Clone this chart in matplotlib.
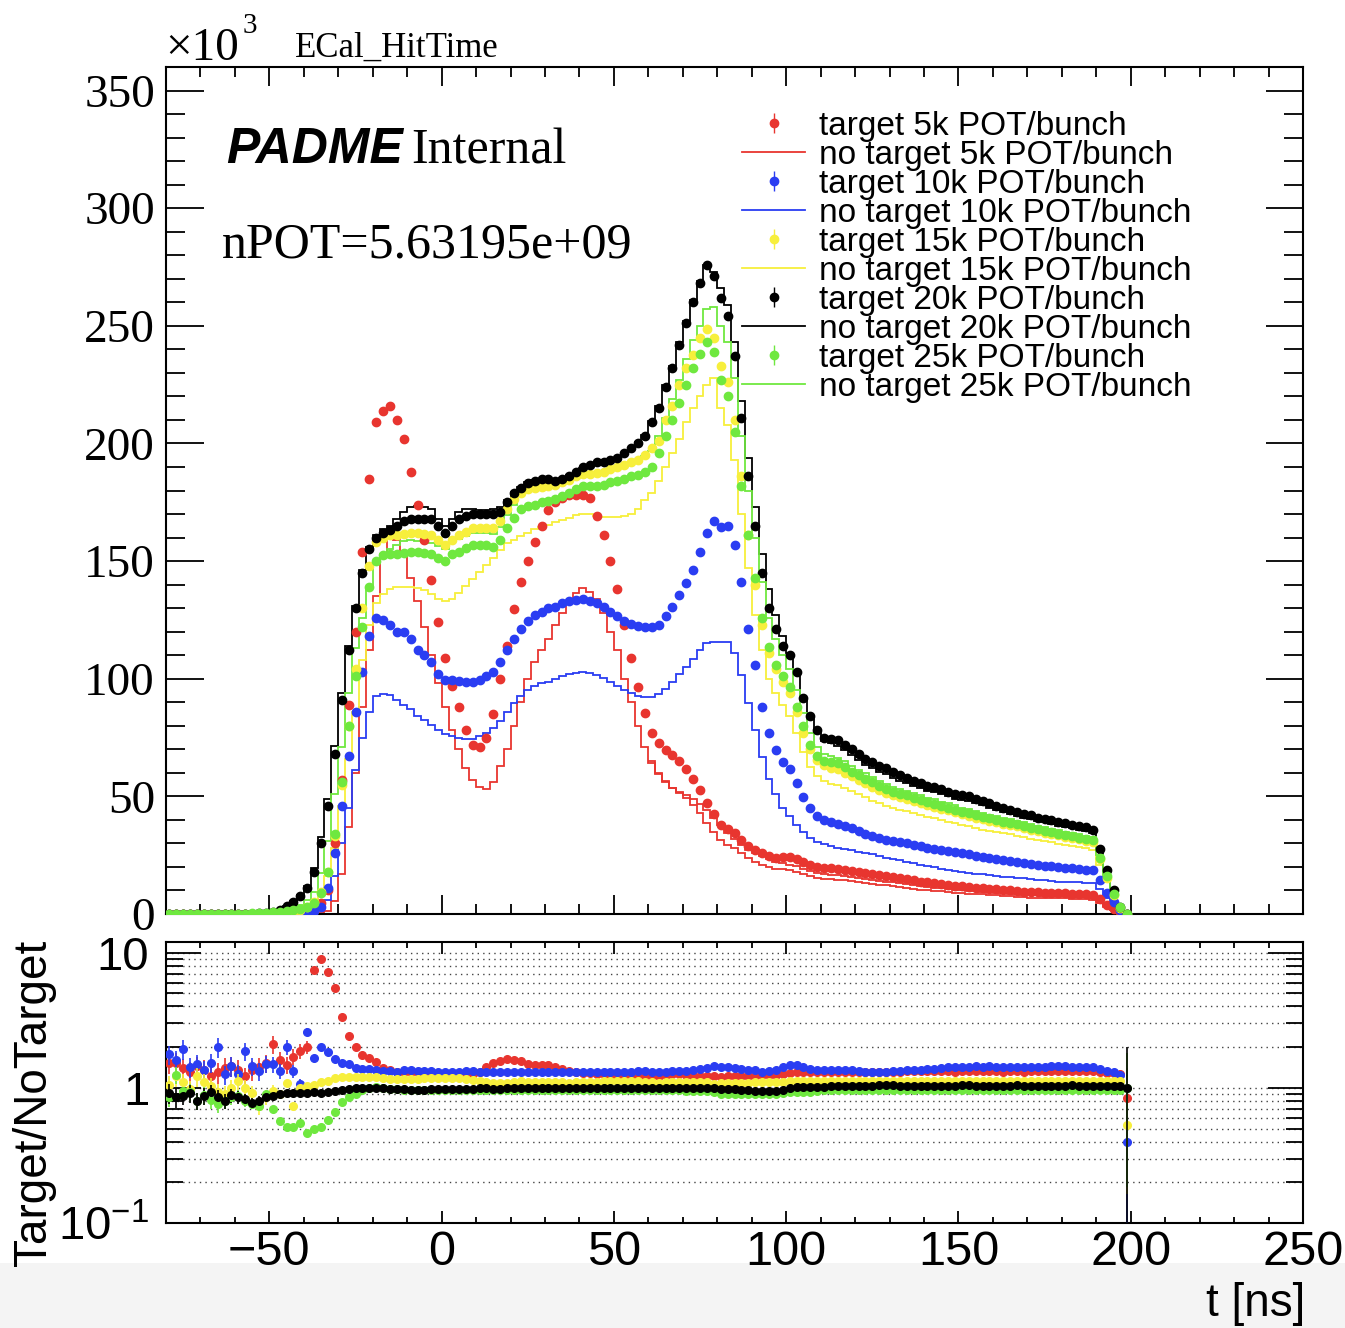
import numpy as np
import matplotlib
matplotlib.use("Agg")
import matplotlib.pyplot as plt
from matplotlib.patches import Rectangle
from matplotlib.container import ErrorbarContainer
from matplotlib.legend_handler import HandlerErrorbar
from matplotlib.ticker import MultipleLocator, FixedLocator, FixedFormatter, LogLocator, NullFormatter

plt.rcParams['font.family'] = ['Liberation Sans', 'DejaVu Sans']
plt.rcParams['mathtext.fontset'] = 'custom'
plt.rcParams['mathtext.rm'] = 'Liberation Sans'
plt.rcParams['mathtext.it'] = 'Liberation Sans:italic'
plt.rcParams['mathtext.bf'] = 'Liberation Sans:bold'

# ECal hit time histograms, 2 ns bins from -80 to 200 ns, entries in units of 10^3
bin_lo, bin_hi, bin_w = -80, 200, 2

# 5k POT/bunch
t5 = [
    0.077, 0.077, 0.084, 0.065, 0.087, 0.068, 0.073, 0.078, 0.070, 0.087,
    0.082, 0.085, 0.081, 0.100, 0.107, 0.147, 0.128, 0.118, 0.153, 0.187,
    0.28, 2.0, 4.5, 10, 30, 57, 89, 120, 154, 185,
    209, 214, 216, 210, 202, 188, 174, 159, 142, 124,
    109, 97, 88, 78, 72, 71, 75, 85, 100, 114,
    129.6, 141, 150, 158, 165, 171.5, 175, 177, 178, 178,
    178, 177, 169, 161, 150, 138, 123, 109, 96.5, 85.5,
    77, 72.6, 69.7, 67.5, 65, 61.6, 57.3, 52.7, 47, 42.5,
    38, 36, 34.4, 31.4, 29, 27, 26, 24.6, 24, 24.2,
    24.2, 23.4, 22.1, 20.8, 20, 19.7, 19.5, 19.2, 18.8, 18.4,
    17.9, 17.4, 17, 16.5, 16.1, 15.7, 15.3, 14.8, 14.3, 13.8,
    13.4, 13.1, 12.7, 12.3, 12, 11.7, 11.4, 11.2, 11, 10.8,
    10.6, 10.3, 10, 9.8, 9.5, 9.3, 9.2, 9.1, 9, 8.9,
    8.8, 8.6, 8.4, 8.3, 8.1, 6.3, 4, 2.2, 0.7, 0.0042]
nt5 = [
    0.05, 0.05, 0.06, 0.05, 0.06, 0.05, 0.06, 0.06, 0.05, 0.06,
    0.06, 0.07, 0.06, 0.07, 0.07, 0.07, 0.08, 0.08, 0.09, 0.10,
    0.14, 0.27, 0.5, 1.4, 5.5, 17, 37, 60, 88, 112,
    135, 152, 160, 159, 154, 143, 133, 122, 110, 98,
    88, 78, 70, 62, 57, 54, 53, 56, 63, 70,
    80, 90, 100, 107, 112, 117, 123, 128, 133, 136.5,
    138.5, 137, 134, 128, 120, 112, 100, 90, 80, 71,
    64, 59.5, 56, 53.5, 51.5, 49.5, 46.5, 43, 38.5, 35,
    31.5, 29.5, 28, 25.8, 23.8, 22, 21, 19.8, 19.2, 19,
    18.7, 18, 17, 16, 15.3, 15, 14.8, 14.6, 14.3, 14,
    13.6, 13.2, 12.9, 12.5, 12.2, 11.9, 11.6, 11.2, 10.8, 10.4,
    10.1, 9.9, 9.6, 9.3, 9.1, 8.8, 8.6, 8.4, 8.3, 8.1,
    8, 7.8, 7.5, 7.4, 7.2, 7, 6.9, 6.8, 6.8, 6.7,
    6.6, 6.5, 6.3, 6.2, 6.1, 4.8, 3.1, 1.7, 0.55, 0.005]
# second red outline visible in the tail, starts at 60 ns
nt5_b_lo = 60
nt5_b = [
    65, 60, 56.5, 53.5, 52, 50.5, 48.8, 46.8, 44, 41,
    37.8, 34.6, 31.8, 29.5, 27.4, 26, 24.6, 23.3, 22.3, 21.6,
    21, 20.3, 19.3, 18.3, 17.5, 17, 16.7, 16.4, 16.1, 15.7,
    15.3, 14.9, 14.5, 14.1, 13.7, 13.4, 13, 12.6, 12.2, 11.8,
    11.5, 11.2, 10.9, 10.6, 10.3, 10.1, 9.8, 9.6, 9.4, 9.2,
    9.1, 8.9, 8.6, 8.4, 8.2, 8, 7.9, 7.8, 7.7, 7.6,
    7.5, 7.4, 7.2, 7.1, 7, 5.5, 3.5, 1.9, 0.6, 0.004]

# 10k POT/bunch
t10 = [
    0.106, 0.096, 0.097, 0.085, 0.090, 0.095, 0.092, 0.100, 0.088, 0.087,
    0.089, 0.112, 0.101, 0.106, 0.120, 0.134, 0.133, 0.200, 0.173, 0.212,
    0.65, 1.2, 3, 11, 26, 46, 67, 86, 103, 118,
    126, 125, 123, 120, 120, 117, 112, 110, 107, 102,
    99.5, 99.5, 99, 98.5, 98.5, 99.5, 101, 103, 107, 112,
    117, 121, 124.5, 127, 128.3, 130, 130.5, 132, 133, 133.6,
    133.8, 133.2, 132, 130.4, 128.5, 126.5, 124.5, 123.3, 122.3, 122,
    122, 123, 126.5, 130.5, 135.5, 140.6, 146, 154, 162, 167,
    164.4, 165, 157, 141, 121, 106, 88, 77, 69.7, 64.6,
    61.6, 55.7, 49.7, 45, 41.5, 40, 39, 38.4, 37.6, 36.5,
    35.3, 34, 33, 32.2, 31.6, 31.1, 30.6, 30, 29.3, 28.7,
    28.1, 27.6, 27.1, 26.7, 26.3, 25.8, 25.3, 24.8, 24.3, 23.8,
    23.3, 22.8, 22.4, 22, 21.6, 21.2, 20.8, 20.5, 20.2, 19.9,
    19.6, 19.4, 19.1, 18.9, 18.7, 14.4, 9, 5, 1.5, 0.002]
nt10 = [
    0.06, 0.06, 0.05, 0.06, 0.06, 0.07, 0.06, 0.05, 0.07, 0.06,
    0.07, 0.06, 0.07, 0.08, 0.08, 0.09, 0.10, 0.10, 0.13, 0.20,
    0.25, 0.72, 1.5, 6, 16, 30, 45, 61, 75, 86,
    92.5, 93.5, 93, 91, 89, 87, 84, 82.5, 80.5, 78,
    76.5, 75.5, 75, 74.5, 74.5, 75.5, 77, 79, 82, 86,
    89.6, 92.5, 95, 97, 98, 98.8, 99.7, 101, 102, 102.6,
    102.8, 102.4, 101.5, 100.3, 98.6, 97, 95.3, 93.8, 92.5, 92.2,
    92.4, 93.5, 95.8, 98.7, 101.8, 105, 108.5, 112, 115, 115.5,
    115.5, 115.5, 111, 101.5, 89.6, 78, 66.7, 57.5, 51, 45,
    41.5, 38, 35, 32.5, 30.6, 29.7, 28.8, 28.2, 27.6, 27,
    26.5, 26, 25.3, 24.6, 24, 23.4, 22.8, 22.2, 21.6, 21,
    20.4, 19.9, 19.3, 18.8, 18.4, 18, 17.6, 17.2, 16.9, 16.5,
    16.2, 15.9, 15.6, 15.3, 15.1, 14.9, 14.6, 14.3, 14, 13.8,
    13.6, 13.5, 13.4, 13.3, 13.2, 10.5, 6.8, 3.8, 1.2, 0.005]

# 15k POT/bunch
t15 = [
    0.074, 0.085, 0.088, 0.078, 0.085, 0.088, 0.093, 0.074, 0.081, 0.090,
    0.112, 0.100, 0.100, 0.088, 0.119, 0.190, 0.315, 0.65, 0.88, 1.9,
    2.9, 5, 9.4, 18, 33, 55, 80, 104, 130, 148,
    158, 160, 161, 161, 161.5, 162, 162, 161.5, 161, 159,
    157, 159, 161, 162.5, 164, 164, 164, 164, 167, 172,
    176.5, 179, 180.5, 181, 181.5, 182, 182.5, 183.5, 184.5, 186,
    187, 187, 187.5, 188, 189, 190, 191, 192, 193, 195,
    198, 201, 210, 216, 225, 232, 237.5, 244.7, 248.5, 245,
    233, 226, 210, 186, 161, 140, 123, 111, 104, 98.6,
    94, 86, 77, 70, 65.5, 63.5, 62, 61.5, 60, 58.5,
    57, 55.5, 54, 52.7, 51.5, 50.5, 49.7, 49, 48.1, 47.2,
    46.3, 45.5, 44.7, 44, 43.2, 42.4, 41.7, 41, 40.2, 39.6,
    39, 38.4, 37.8, 37.2, 36.5, 35.8, 35.1, 34.6, 34, 33.4,
    32.8, 32.2, 31.7, 31.2, 30.6, 23.5, 15.5, 8.2, 2.6, 0.0032]
nt15 = [
    0.07, 0.07, 0.08, 0.08, 0.07, 0.08, 0.09, 0.08, 0.09, 0.09,
    0.10, 0.10, 0.11, 0.12, 0.14, 0.20, 0.35, 0.60, 1.2, 1.9,
    2.8, 4.8, 8.5, 16, 28, 46, 66, 86, 108, 123,
    132, 136, 138, 139, 139, 139, 138.5, 137.5, 136, 134,
    133, 134, 136.5, 139.5, 142.5, 145.5, 148.5, 151.5, 154.5, 157.5,
    159, 160.5, 162, 163.5, 164.5, 165.5, 166.5, 167.5, 168.5, 169.5,
    170, 170, 169, 168.6, 168.6, 168.6, 169, 170, 172, 176,
    179, 184, 190, 196, 202, 209, 215, 220, 225, 228,
    215, 208, 193, 170, 147, 127, 112, 100, 94, 89,
    84, 77, 69, 62.5, 58.5, 56.7, 55.4, 54.9, 53.6, 52.2,
    50.9, 49.6, 48.2, 47, 46, 45.1, 44.4, 43.8, 43, 42.1,
    41.3, 40.6, 39.9, 39.3, 38.6, 37.9, 37.2, 36.6, 35.9, 35.4,
    34.8, 34.3, 33.8, 33.2, 32.6, 32, 31.3, 30.9, 30.4, 29.8,
    29.3, 28.8, 28.3, 27.9, 27.3, 21, 13.8, 7.3, 2.3, 0.006]

# 20k POT/bunch
t20 = [
    0.073, 0.068, 0.079, 0.082, 0.080, 0.087, 0.102, 0.102, 0.104, 0.132,
    0.145, 0.164, 0.193, 0.28, 0.425, 0.78, 1.7, 3.2, 5, 7.5,
    11, 18, 30, 46, 68, 91, 112, 130, 145, 155,
    160, 162, 163, 165, 167, 168, 168, 168, 168, 165,
    162, 165, 168, 169, 170, 170, 170, 170, 171, 175,
    179, 181, 183, 184, 185, 185, 184, 185, 186, 188,
    190, 191, 192, 192, 193, 194, 196, 198, 200, 203,
    209, 215, 224, 232, 242, 251, 260, 268, 276, 271,
    262, 254, 237, 211, 186, 165, 145, 130, 121, 114,
    110, 103, 92, 84, 78, 75, 74.5, 74, 72, 70,
    68, 66, 64.5, 63, 62, 60.5, 59, 58, 56.5, 55.5,
    54.5, 54, 53, 52, 51, 50.5, 50, 49, 48, 47,
    46, 45, 44, 43.3, 42.5, 42, 41, 40.5, 39.8, 39,
    38.6, 38, 37.3, 36.8, 35.7, 27.6, 18.7, 10.2, 3, 0.002]
nt20 = [
    0.08, 0.08, 0.09, 0.09, 0.10, 0.10, 0.11, 0.12, 0.13, 0.15,
    0.17, 0.20, 0.25, 0.35, 0.50, 0.90, 1.9, 3.5, 5.5, 8.2,
    12, 19.4, 32.6, 49, 71.5, 94, 114, 131, 146, 156,
    161, 163.5, 165, 168, 171, 173, 173.5, 173, 172, 168,
    165, 168, 171, 172, 172, 171.5, 171.5, 172, 173, 176,
    179.5, 181.5, 183.5, 184.5, 185, 185, 185, 185.5, 186.5, 188,
    189.5, 190.5, 191.5, 192, 193, 194, 196, 198, 200.5, 203.5,
    209.5, 216, 225, 233, 243, 252, 261, 269, 276, 273,
    266, 259, 243, 218, 194, 173, 153, 138, 127, 118,
    111, 102, 91, 83, 77, 73.5, 72.5, 71.5, 69.5, 67.5,
    65.5, 63.5, 62, 60.5, 59.5, 58, 56.7, 55.8, 54.3, 53.4,
    52.4, 52, 51, 50, 49, 48.5, 48, 47.1, 46.2, 45.2,
    44.2, 43.3, 42.3, 41.6, 40.9, 40.4, 39.4, 39, 38.3, 37.5,
    37.1, 36.5, 35.9, 35.4, 34.4, 26.6, 18, 9.8, 2.9, 0.002]

# 25k POT/bunch
t25 = [
    0.069, 0.100, 0.086, 0.084, 0.080, 0.088, 0.090, 0.091, 0.104, 0.128,
    0.157, 0.176, 0.228, 0.333, 0.63, 0.70, 0.80, 1.2, 1.6, 2.1,
    2.8, 4.7, 9, 18, 34, 56, 80, 101, 122, 139,
    150, 152.5, 153, 153, 153.5, 154, 154, 153.5, 153, 151.5,
    150, 153, 154, 155.5, 157, 157, 157, 156, 159, 164,
    168.5, 172, 173.5, 174, 175, 175.5, 176.5, 177.5, 179, 180.5,
    182, 182, 182, 182.5, 183.5, 184, 185, 186, 186.5, 188,
    190, 196, 203, 210, 217, 225, 232, 238, 243, 239,
    227, 220, 205, 182, 161, 143, 126, 113.5, 106, 101,
    96.5, 88, 80, 72, 67, 65, 64.5, 64, 62.5, 60.5,
    59, 57.5, 56, 54.5, 53, 52, 51.2, 50.4, 49.5, 48.6,
    47.6, 46.8, 46, 45.2, 44.4, 43.5, 42.8, 42, 41.2, 40.6,
    40, 39.3, 38.7, 38.1, 37.4, 36.7, 36, 35.4, 34.8, 34.2,
    33.6, 33, 32.5, 32, 31.4, 24, 16, 8.5, 2.8, 0.003]
nt25 = [
    0.08, 0.08, 0.09, 0.09, 0.10, 0.10, 0.11, 0.12, 0.13, 0.15,
    0.18, 0.22, 0.30, 0.45, 0.70, 1.0, 1.4, 2.35, 3.1, 3.8,
    6, 9.4, 17.6, 31, 51, 71, 94, 113, 126, 139,
    149, 153, 155, 157, 158.5, 159, 158.5, 158, 157.5, 156.5,
    155, 157.5, 159.5, 160.5, 162, 162, 162, 161.5, 164.5, 169.5,
    174, 178, 180, 181, 181.5, 182, 183, 184, 185, 186.5,
    188, 188, 188, 188.5, 189.5, 190, 191, 192, 193, 194.5,
    197, 203, 211, 219, 227, 236, 244, 250, 257, 258,
    250, 243, 228, 203, 180, 160, 141, 126, 117, 110,
    104, 95, 85.5, 77, 71, 68, 67, 66.5, 65, 63,
    61.4, 59.8, 58.2, 56.7, 55.1, 54.1, 53.2, 52.4, 51.5, 50.5,
    49.5, 48.7, 47.8, 47, 46.2, 45.2, 44.5, 43.7, 42.8, 42.2,
    41.6, 40.9, 40.2, 39.6, 38.9, 38.2, 37.4, 36.8, 36.2, 35.6,
    34.9, 34.3, 33.8, 33.3, 32.7, 25, 16.6, 8.8, 2.9, 0.003]

labels = ["5k", "10k", "15k", "20k", "25k"]
colors = ["#e8352f", "#2a3df2", "#f7ef3c", "#000000", "#6fe83f"]
targets = [t5, t10, t15, t20, t25]
notargets = [nt5, nt10, nt15, nt20, nt25]
ratio_z = [3.0, 3.1, 3.2, 3.4, 3.3]

edges = np.arange(bin_lo, bin_hi + bin_w, bin_w)
centers = edges[:-1] + bin_w / 2

fig = plt.figure(figsize=(13.45, 13.28), dpi=100)
W, H = 1345.0, 1328.0
fig.patches.append(Rectangle((0, 0), 1, 65 / H, transform=fig.transFigure,
                             facecolor="#f4f4f4", edgecolor="none", zorder=-5))

ax1 = fig.add_axes([166 / W, 1 - 914 / H, 1137 / W, 847 / H])
ax2 = fig.add_axes([166 / W, 1 - 1223 / H, 1137 / W, 281 / H])

handles = []
for lab, col, tv, nv, rz in zip(labels, colors, targets, notargets, ratio_z):
    tv = np.array(tv)
    nv = np.array(nv)
    eb = ax1.errorbar(centers, tv, yerr=np.sqrt(tv * 1000) / 1000, fmt="o", ms=6,
                      color=col, mec=col, elinewidth=1.0, capsize=0, zorder=3,
                      label=f"target {lab} POT/bunch")
    st = ax1.stairs(nv, edges, color=col, lw=1.3, zorder=2,
                    label=f"no target {lab} POT/bunch")
    handles += [eb, st]
    if lab == "5k":
        b_edges = np.arange(nt5_b_lo, nt5_b_lo + bin_w * (len(nt5_b) + 1), bin_w)
        ax1.stairs(nt5_b, b_edges, baseline=None, color=col, lw=1.3, zorder=2)

    # ratio panel
    r = tv / nv
    err = r * np.sqrt(1 / (tv * 1000) + 1 / (nv * 1000))
    lo = np.minimum(err, r * 0.999)
    ax2.errorbar(centers, r, yerr=[lo, err], fmt="o", ms=5.5, color=col, mec=col,
                 elinewidth=1.2, capsize=0, zorder=rz)

ax1.set_xlim(-80, 250)
ax1.set_ylim(0, 360)
ax2.set_xlim(-80, 250)
ax2.set_yscale("log")
ax2.set_ylim(0.1, 12)

for ax in (ax1, ax2):
    for sp in ax.spines.values():
        sp.set_linewidth(1.5)
    ax.xaxis.set_major_locator(MultipleLocator(50))
    ax.xaxis.set_minor_locator(MultipleLocator(10))

ax1.yaxis.set_major_locator(MultipleLocator(50))
ax1.yaxis.set_minor_locator(MultipleLocator(10))
ax1.tick_params(axis="x", which="major", direction="in", length=14, width=1.3,
                top=True, bottom=True, labelbottom=False)
ax1.tick_params(axis="x", which="minor", direction="in", length=7, width=1.3,
                top=True, bottom=True)
ax1.tick_params(axis="y", which="major", direction="in", length=27, width=1.3,
                left=True, right=True, labelsize=34, pad=8,
                labelfontfamily="Liberation Serif")
ax1.tick_params(axis="y", which="minor", direction="in", length=13.5, width=1.3,
                left=True, right=True)

ax2.yaxis.set_major_locator(FixedLocator([0.1, 1, 10]))
ax2.yaxis.set_major_formatter(FixedFormatter([r"$10^{-1}$", "1", "10"]))
ax2.yaxis.set_minor_locator(LogLocator(base=10, subs=np.arange(2, 10)))
ax2.yaxis.set_minor_formatter(NullFormatter())
ax2.tick_params(axis="x", which="major", direction="in", length=8.6, width=1.3,
                top=True, bottom=True, labelsize=35, pad=5)
ax2.tick_params(axis="x", which="minor", direction="in", length=4.3, width=1.3,
                top=True, bottom=True)
ax2.tick_params(axis="y", which="major", direction="in", length=25, width=1.3,
                left=True, right=True, labelsize=34, pad=12)
ax2.tick_params(axis="y", which="minor", direction="in", length=12, width=1.3,
                left=True, right=True)
ax2.set_axisbelow(True)
ax2.yaxis.grid(True, which="both", linestyle=(0, (1, 3)), color="#444444", lw=1.0)

leg = ax1.legend(handles=handles, loc="upper left",
                 bbox_to_anchor=(742 / W, 1 - 111 / H), bbox_transform=fig.transFigure,
                 frameon=False, fontsize=24, borderpad=0, borderaxespad=0,
                 handlelength=1.9, handletextpad=0.4, labelspacing=-0.06,
                 handler_map={ErrorbarContainer: HandlerErrorbar(yerr_size=0.3)})

serif = "Liberation Serif"
fig.text(165 / W, 1 - 60 / H, "\u00d710", family=serif, fontsize=34, va="baseline")
fig.text(243 / W, 1 - 33 / H, "3", family=serif, fontsize=21, va="baseline")
fig.text(295 / W, 1 - 57 / H, "ECal_HitTime", family=serif, fontsize=25, va="baseline")
fig.text(226 / W, 1 - 163 / H, "PADME", family="Liberation Sans", fontsize=36,
         weight="bold", style="italic", va="baseline")
fig.text(411 / W, 1 - 163 / H, "Internal", family=serif, fontsize=36, va="baseline")
fig.text(222 / W, 1 - 258 / H, "nPOT=5.63195e+09", family=serif, fontsize=36,
         va="baseline")
fig.text(34 / W, 1 - 940 / H, "Target/NoTarget", rotation=90, fontsize=33,
         ha="center", va="top")
fig.text(1305 / W, 1 - 1316 / H, "t [ns]", fontsize=33, ha="right", va="baseline")

fig.savefig("out.png", dpi=100)
